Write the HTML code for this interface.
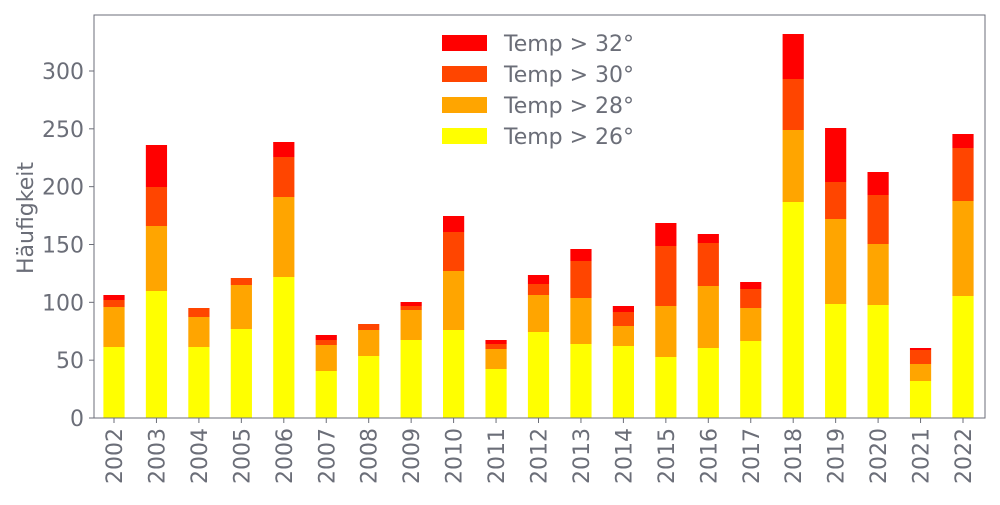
<!DOCTYPE html>
<html><head><meta charset="utf-8"><style>
html,body{margin:0;padding:0;background:#fff;}
svg text{font-family:"DejaVu Sans","Liberation Sans",sans-serif;fill:#6b6e78;}
</style></head><body>
<svg width="1000" height="500" xmlns="http://www.w3.org/2000/svg">
<rect x="0" y="0" width="1000" height="500" fill="#fff"/>
<g id="bars"></g>
<rect x="94" y="15" width="891" height="403" fill="none" stroke="#6b6e78" stroke-width="1"/>
<g id="yt"></g>
<g id="xt"></g>
<text transform="translate(33,218) rotate(-90)" text-anchor="middle" font-size="22">Häufigkeit</text>
<g font-size="22">
<rect x="442" y="35" width="45" height="16" fill="#ff0000"/><text x="504" y="51">Temp &gt; 32°</text>
<rect x="442" y="66" width="45" height="16" fill="#ff4500"/><text x="504" y="82">Temp &gt; 30°</text>
<rect x="442" y="97" width="45" height="16" fill="#ffa500"/><text x="504" y="113">Temp &gt; 28°</text>
<rect x="442" y="128" width="45" height="16" fill="#ffff00"/><text x="504" y="144">Temp &gt; 26°</text>
</g>
</svg>
<script>
const d=[[347,307,300,295],[291,226,187,145],[347,317,308,308],[329,285,278,278],[277,197,157,142],[371,345,340,335],[356,330,324,324],[340,310,306,302],[330,271,232,216],[369,349,344,340],[332,295,284,275],[344,298,261,249],[346,326,312,306],[357,306,246,223],[348,286,243,234],[341,308,289,282],[202,130,79,34],[304,219,182,128],[305,244,195,172],[381,364,350,348],[296,201,148,134]];
const cols=["#ffff00","#ffa500","#ff4500","#ff0000"];
const ns="http://www.w3.org/2000/svg";
const bars=document.getElementById("bars"),xt=document.getElementById("xt"),yt=document.getElementById("yt");
d.forEach((v,i)=>{const cx=114+i*42.45;let bottom=418;
for(let k=0;k<4;k++){const r=document.createElementNS(ns,"rect");r.setAttribute("x",cx-10.6);r.setAttribute("width",21.2);r.setAttribute("y",v[k]);r.setAttribute("height",Math.max(0,bottom-v[k]));r.setAttribute("fill",cols[k]);bars.appendChild(r);bottom=v[k];}
const l=document.createElementNS(ns,"line");l.setAttribute("x1",cx);l.setAttribute("x2",cx);l.setAttribute("y1",418);l.setAttribute("y2",423);l.setAttribute("stroke","#6b6e78");xt.appendChild(l);
const t=document.createElementNS(ns,"text");t.setAttribute("transform",`translate(${cx+8},428) rotate(-90)`);t.setAttribute("text-anchor","end");t.setAttribute("font-size","22");t.textContent=2002+i;xt.appendChild(t);});
for(let v=0;v<=300;v+=50){const y=418-v*1.1567;
const l=document.createElementNS(ns,"line");l.setAttribute("x1",89);l.setAttribute("x2",94);l.setAttribute("y1",y);l.setAttribute("y2",y);l.setAttribute("stroke","#6b6e78");yt.appendChild(l);
const t=document.createElementNS(ns,"text");t.setAttribute("x",84);t.setAttribute("y",y+8);t.setAttribute("text-anchor","end");t.setAttribute("font-size","22");t.textContent=v;yt.appendChild(t);}
</script>
</body></html>
